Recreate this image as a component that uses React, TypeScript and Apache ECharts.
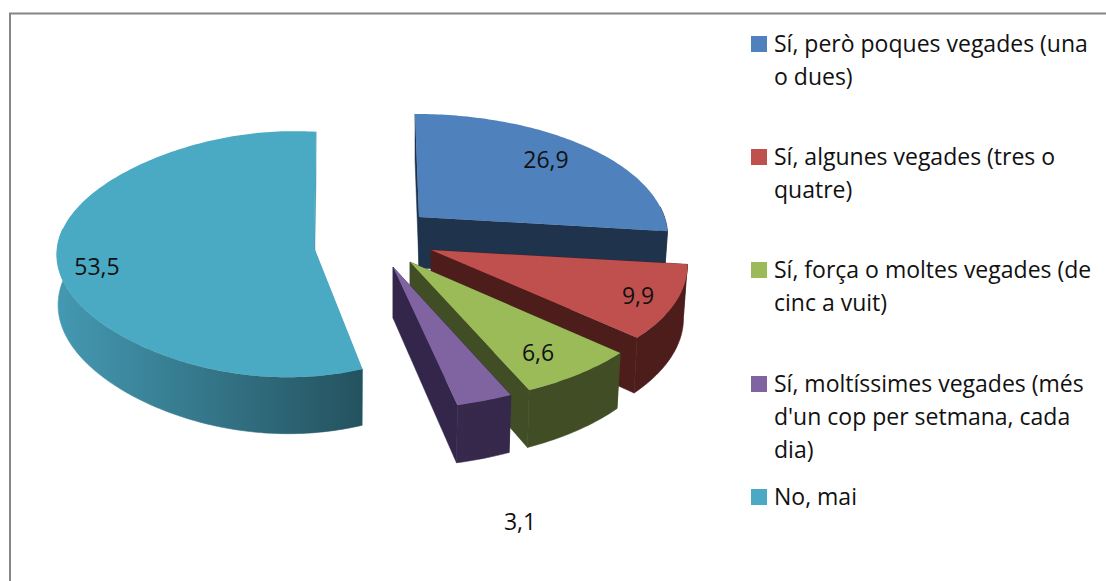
import React, { useEffect, useRef } from "react";
import * as echarts from "echarts";

const categories = [
  "Sí, però poques vegades (una o dues)",
  "Sí, algunes vegades (tres o quatre)",
  "Sí, força o moltes vegades (de cinc a vuit)",
  "Sí, moltíssimes vegades (més d'un cop per setmana, cada dia)",
  "No, mai",
];
const values = [26.9, 9.9, 6.6, 3.1, 53.5];
const valueLabels = ["26,9", "9,9", "6,6", "3,1", "53,5"];
const legendLines = [
  ["Sí, però poques vegades (una", "o dues)"],
  ["Sí, algunes vegades (tres o", "quatre)"],
  ["Sí, força o moltes vegades (de", "cinc a vuit)"],
  ["Sí, moltíssimes vegades (més", "d'un cop per setmana, cada", "dia)"],
  ["No, mai"],
];
const topColors = ["#4f81bd", "#c0504d", "#9bbb59", "#8064a2", "#4aaac4"];
const wallColors = ["#1f334d", "#4d1d1c", "#414d24", "#33264a", "#3f96ae"];
const stripColors = [
  ["#1f334d", "#1f334d"],
  ["#4d1d1c", "#4d1d1c"],
  ["#414d24", "#414d24"],
  ["#36294c", "#35284a"],
  ["#4499b2", "#24525f"],
];
// projection of each exploded slice: apex, radii, perspective terms, extrusion
const geometry = [
  { ax: 419, ay: 217, R: 245.5, H: 118, k: 0.145, j: 0, q: 0, s: -4, d: 51, rb: 0.985 },
  { ax: 431, ay: 250, R: 254, H: 118, k: 0.135, j: 0, q: 0, s: 0, d: 51, rb: 0.985 },
  { ax: 410, ay: 262, R: 258, H: 122, k: 0.14, j: 0, q: 0, s: 0, d: 51, rb: 0.985 },
  { ax: 393, ay: 267, R: 255, H: 122, k: 0.14, j: 0, q: 0, s: 0, d: 51, rb: 0.985 },
  { ax: 314, ay: 248, R: 226, H: 122, k: 0.05, j: 0.12, q: 0.1, s: 2, d: 50, rb: 0.995 },
];
const labelPos = [
  [546, 159],
  [638, 295],
  [538, 352],
  [520, 521],
  [97, 266],
];
const legendTops = [26.5, 139.5, 252.5, 366.5, 479.5];
const lineH = 33;
const font = "'Open Sans', sans-serif";
const fontSize = 23;

const total = values.reduce((a, b) => a + b, 0);
const startAngles = values.map((_, i) =>
  (values.slice(0, i).reduce((a, b) => a + b, 0) / total) * 2 * Math.PI
);

function proj(g: any, t: number, bottom: boolean): number[] {
  const u = Math.sin(t);
  const v = Math.cos(t);
  const den = 1 + g.k * v + g.j * u + g.q * (u * v) * (u * v);
  const R = g.R * (bottom ? g.rb : 1);
  const H = g.H * (bottom ? 1.05 : 1);
  return [g.ax + (R * u) / den + g.s * v, g.ay + (bottom ? g.d : 0) - (H * v) / den];
}

function arc(g: any, a: number, b: number, bottom: boolean): number[][] {
  const n = Math.max(2, Math.ceil(((b - a) * 180) / Math.PI));
  const pts: number[][] = [];
  for (let i = 0; i <= n; i++) pts.push(proj(g, a + ((b - a) * i) / n, bottom));
  return pts;
}

function makeRenderItem(i: number) {
  return (_params: any, api: any) => {
    const g = geometry[i];
    const a = startAngles[i];
    const b = a + (api.value(0) / total) * 2 * Math.PI;
    const apexTop = [g.ax, g.ay];
    const apexBot = [g.ax, g.ay + g.d];
    const children: any[] = [];
    const wall = (t: number) => ({
      type: "polygon",
      silent: true,
      shape: { points: [apexTop, proj(g, t, false), proj(g, t, true), apexBot] },
      style: { fill: wallColors[i], stroke: wallColors[i], lineWidth: 0.5 },
    });
    children.push(wall(a));
    children.push(wall(b));
    const fa = Math.max(a, (85 * Math.PI) / 180);
    const fb = Math.min(b, (278 * Math.PI) / 180);
    if (fb > fa) {
      const grad = () =>
        new echarts.graphic.LinearGradient(0, 0, 1, 0, [
          { offset: 0, color: stripColors[i][0] },
          { offset: 1, color: stripColors[i][1] },
        ]);
      children.push({
        type: "polygon",
        silent: true,
        shape: { points: [...arc(g, fa, fb, false), ...arc(g, fa, fb, true).reverse()] },
        style: { fill: grad(), stroke: grad(), lineWidth: 0.6 },
      });
    }
    children.push({
      type: "polygon",
      silent: true,
      shape: { points: [apexTop, ...arc(g, a, b, false)] },
      style: { fill: topColors[i] },
    });
    children.push({
      type: "text",
      silent: true,
      z2: 10,
      x: labelPos[i][0],
      y: labelPos[i][1],
      style: {
        text: valueLabels[i],
        font: `${fontSize}px ${font}`,
        fill: "#111",
        align: "center",
        verticalAlign: "middle",
      },
    });
    return { type: "group", children };
  };
}

export default function App() {
  const ref = useRef<HTMLDivElement>(null);
  useEffect(() => {
    const chart = echarts.init(ref.current!, null, { renderer: "svg" });
    chart.setOption({
      animation: false,
      backgroundColor: "#ffffff",
      graphic: [
        {
          type: "polyline",
          silent: true,
          shape: { points: [[10, 581], [10, 13.5], [1106, 13.5]] },
          style: { stroke: "#868686", lineWidth: 2, fill: "none" },
        },
      ],
      legend: categories.map((name, i) => {
        const n = legendLines[i].length;
        const h = n * lineH;
        return {
          data: [name],
          left: 751,
          top: legendTops[i],
          padding: 0,
          selectedMode: false,
          itemWidth: 18,
          itemHeight: h,
          icon: `path://M0 9.5H16V25.5H0ZM18 ${h}L18 ${h}ZM18 0L18 0Z`,
          formatter: () => legendLines[i].join("\n"),
          textStyle: { fontFamily: font, fontSize, lineHeight: lineH, color: "#111" },
        };
      }),
      series: categories.map((name, i) => ({
        type: "custom",
        name,
        coordinateSystem: "none",
        itemStyle: { color: topColors[i] },
        data: [[values[i]]],
        renderItem: makeRenderItem(i),
      })),
    });
    return () => chart.dispose();
  }, []);
  return <div ref={ref} style={{ position: "fixed", left: 0, top: 0, width: 1106, height: 581 }} />;
}
